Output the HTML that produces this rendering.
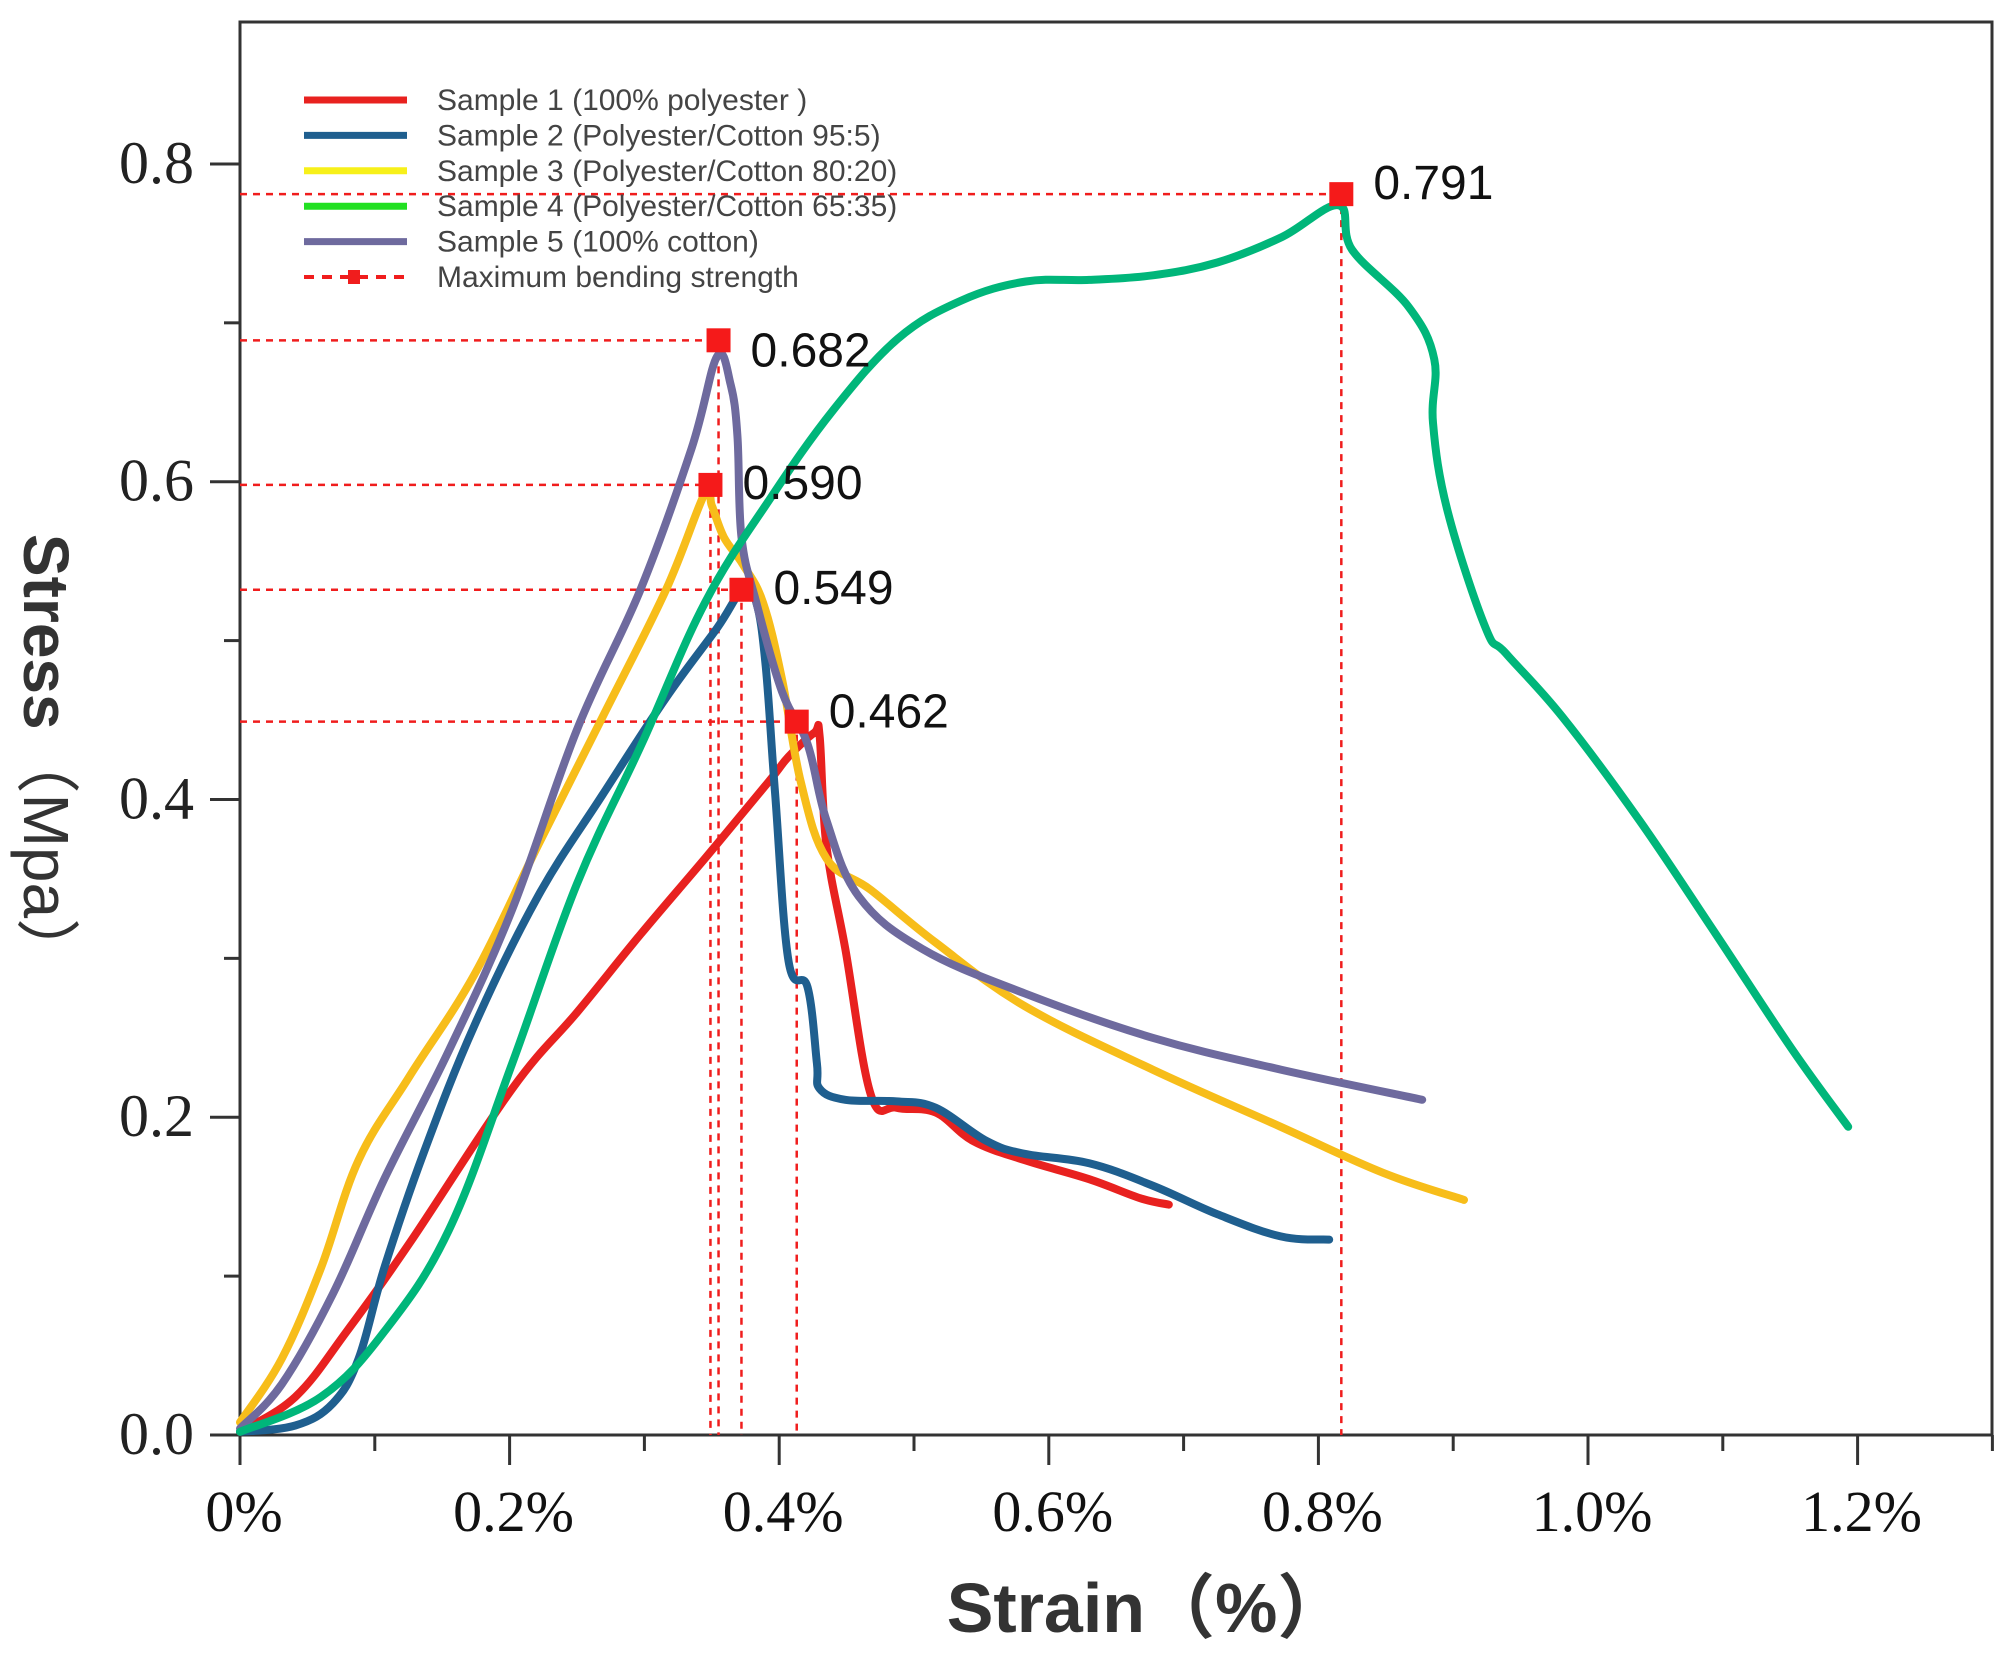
<!DOCTYPE html>
<html><head><meta charset="utf-8"><style>
html,body{margin:0;padding:0;background:#fff;}
svg{display:block;}
</style></head><body>
<svg id="chart" width="2009" height="1658" viewBox="0 0 2009 1658" xmlns="http://www.w3.org/2000/svg"></svg>
<script>
// ---- data ----
const s1x=[0,0.041,0.079,0.126,0.202,0.250,0.297,0.345,0.392,0.407,0.426,0.430,0.435,0.449,0.468,0.487,0.516,0.544,0.582,0.630,0.668,0.689];
const s1y=[0.002,0.024,0.065,0.121,0.218,0.266,0.315,0.363,0.411,0.427,0.442,0.440,0.371,0.306,0.214,0.206,0.203,0.185,0.173,0.161,0.149,0.145];
const s2x=[0,0.041,0.069,0.088,0.107,0.136,0.174,0.221,0.269,0.316,0.354,0.373,0.383,0.390,0.397,0.407,0.421,0.428,0.430,0.449,0.487,0.516,0.554,0.582,0.630,0.677,0.725,0.772,0.808];
const s2y=[0.002,0.006,0.020,0.048,0.105,0.177,0.258,0.339,0.403,0.464,0.508,0.532,0.524,0.484,0.403,0.298,0.282,0.234,0.218,0.211,0.210,0.206,0.185,0.177,0.171,0.157,0.139,0.125,0.123];
const s3x=[0,0.031,0.060,0.088,0.126,0.174,0.221,0.269,0.316,0.345,0.350,0.359,0.373,0.388,0.402,0.416,0.435,0.468,0.516,0.582,0.677,0.772,0.848,0.908];
const s3y=[0.008,0.048,0.105,0.173,0.226,0.290,0.371,0.452,0.532,0.593,0.585,0.565,0.548,0.524,0.476,0.411,0.363,0.343,0.310,0.270,0.230,0.194,0.165,0.148];
const s4x=[0,0.060,0.107,0.155,0.202,0.250,0.298,0.345,0.393,0.440,0.488,0.535,0.583,0.630,0.678,0.725,0.773,0.815,0.825,0.867,0.886,0.885,0.896,0.924,0.939,0.981,1.038,1.095,1.152,1.193];
const s4y=[0.002,0.024,0.065,0.129,0.234,0.347,0.435,0.524,0.589,0.645,0.690,0.714,0.726,0.727,0.730,0.738,0.754,0.774,0.746,0.710,0.677,0.637,0.581,0.508,0.492,0.452,0.387,0.315,0.242,0.194];
const s5x=[0,0.031,0.069,0.107,0.155,0.202,0.250,0.297,0.335,0.354,0.364,0.369,0.372,0.383,0.402,0.421,0.435,0.459,0.506,0.582,0.677,0.772,0.877];
const s5y=[0.004,0.032,0.089,0.161,0.242,0.331,0.444,0.532,0.621,0.679,0.661,0.629,0.565,0.524,0.468,0.435,0.387,0.339,0.306,0.278,0.250,0.230,0.211];
const peakX=[0.817,0.355,0.349,0.372,0.413];
const peakY=[0.781,0.689,0.598,0.532,0.449];
const peakLabels=["0.791","0.682","0.590","0.549","0.462"];
const xTicks=[0,0.2,0.4,0.6,0.8,1.0,1.2];
const xTickLabels=["0%","0.2%","0.4%","0.6%","0.8%","1.0%","1.2%"];
const yTicks=[0,0.2,0.4,0.6,0.8];
const yTickLabels=["0.0","0.2","0.4","0.6","0.8"];
const legendLabels=["Sample 1 (100% polyester )","Sample 2 (Polyester/Cotton 95:5)","Sample 3 (Polyester/Cotton 80:20)","Sample 4 (Polyester/Cotton 65:35)","Sample 5 (100% cotton)","Maximum bending strength"];

const NS="http://www.w3.org/2000/svg";
const svg=document.getElementById('chart');
const L=240,T=22,R=1992,B=1435;
function px(x){return L+x/0.1*134.8;}
function py(y){return B-y*1588.8;}
function el(tag,attrs,parent){const e=document.createElementNS(NS,tag);for(const k in attrs)e.setAttribute(k,attrs[k]);(parent||svg).appendChild(e);return e;}
function smoothPath(xs,ys){
  const P=xs.map((x,i)=>[px(x),py(ys[i])]);
  let d='M'+P[0][0].toFixed(1)+','+P[0][1].toFixed(1);
  const k=0.18;
  for(let i=0;i<P.length-1;i++){
    const p0=P[Math.max(0,i-1)],p1=P[i],p2=P[i+1],p3=P[Math.min(P.length-1,i+2)];
    const c1=[p1[0]+(p2[0]-p0[0])*k,p1[1]+(p2[1]-p0[1])*k];
    const c2=[p2[0]-(p3[0]-p1[0])*k,p2[1]-(p3[1]-p1[1])*k];
    d+=' C'+c1[0].toFixed(1)+','+c1[1].toFixed(1)+' '+c2[0].toFixed(1)+','+c2[1].toFixed(1)+' '+p2[0].toFixed(1)+','+p2[1].toFixed(1);
  }
  return d;
}

// frame
const frame=el('rect',{x:L,y:T,width:R-L,height:B-T,fill:'none',stroke:'#333','stroke-width':3});



// ticks
for(let i=0;i<=13;i++){
  const v=i*0.1, x=px(v), major=(i%2===0);
  const t=el('line',{x1:x,y1:B,x2:x,y2:B+(major?30:16),stroke:'#333','stroke-width':3});
  
  
}
for(let i=0;i<=8;i++){
  const v=i*0.1, y=py(v), major=(i%2===0);
  const t=el('line',{x1:L,y1:y,x2:L-(major?30:16),y2:y,stroke:'#333','stroke-width':3});
  
  
}
xTicks.forEach((v,i)=>{
  const t=el('text',{x:px(v)+4,y:1531,'text-anchor':'middle','font-family':'Liberation Serif, serif','font-size':58,fill:'#111'});
  t.textContent=xTickLabels[i];
  
  
});
yTicks.forEach((v,i)=>{
  const t=el('text',{x:194,y:py(v)+19,'text-anchor':'end','font-family':'Liberation Serif, serif','font-size':60,fill:'#222'});
  t.textContent=yTickLabels[i];
  
  
});

// axis titles
const xt=el('text',{x:1147,y:1632,'text-anchor':'middle','font-family':'Liberation Sans, Noto Sans CJK SC, sans-serif','font-size':70,'font-weight':'bold',fill:'#333'});
xt.textContent='Strain（%）';


const yt=el('text',{x:0,y:0,'text-anchor':'middle','font-family':'Liberation Sans, Noto Sans CJK SC, sans-serif','font-size':64,fill:'#333',transform:'translate(24,758) rotate(90)'});
yt.innerHTML='<tspan font-weight="bold">Stress</tspan>（Mpa）';



// dashed reference lines
peakX.forEach((v,i)=>{
  const h=el('line',{x1:L,y1:py(peakY[i]),x2:px(v),y2:py(peakY[i]),stroke:'#f01d1d','stroke-width':2.5,'stroke-dasharray':'7 6'});
  
  
  const vl=el('line',{x1:px(v),y1:py(peakY[i]),x2:px(v),y2:B,stroke:'#f01d1d','stroke-width':2.5,'stroke-dasharray':'7 6'});
  
  
});

// series
const series=[[s1x,s1y,'#e8211f','sample-1-line'],[s2x,s2y,'#1f5f8f','sample-2-line'],[s3x,s3y,'#f7bd1a','sample-3-line'],[s5x,s5y,'#6e6a9e','sample-5-line'],[s4x,s4y,'#00b67a','sample-4-line']];
series.forEach(s=>{
  const p=el('path',{d:smoothPath(s[0],s[1]),fill:'none',stroke:s[2],'stroke-width':8,'stroke-linejoin':'round','stroke-linecap':'round'});
  
  
});

// peak markers
peakX.forEach((v,i)=>{
  const m=el('rect',{x:px(v)-12,y:py(peakY[i])-12,width:24,height:24,fill:'#f51a1a'});
  
  
  const t=el('text',{x:px(v)+32,y:py(peakY[i])+(i===0?5:(i===1?26:i===4?6:14)),'font-family':'Liberation Sans, sans-serif','font-size':48,fill:'#111'});
  t.textContent=peakLabels[i];
  
  
});

// legend
const legColors=['#e8211f','#1f5f8f','#f7f01a','#22e022','#6e6a9e','#f01d1d'];
legendLabels.forEach((lab,i)=>{
  const y=100+i*35.4;
  const g=el('g',{});
  
  
  if(i<5){
    el('line',{x1:304,y1:y,x2:407,y2:y,stroke:legColors[i],'stroke-width':7},g);
  }else{
    el('line',{x1:304,y1:y,x2:407,y2:y,stroke:legColors[i],'stroke-width':4,'stroke-dasharray':'10 8'},g);
    el('rect',{x:348,y:y-7,width:12,height:14,fill:legColors[i]},g);
  }
  const t=el('text',{x:437,y:y+10,'font-family':'Liberation Sans, sans-serif','font-size':30,fill:'#444'},g);
  t.textContent=lab;
});
</script>
</body></html>
